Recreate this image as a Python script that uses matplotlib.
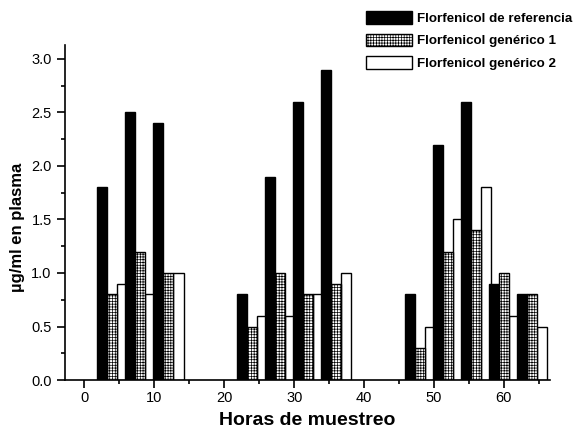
import numpy as np
import matplotlib
matplotlib.use("Agg")
from matplotlib import pyplot as plt
from matplotlib.ticker import MultipleLocator, FormatStrFormatter

# horas de muestreo y concentraciones (ug/ml)
horas = [4, 8, 12, 24, 28, 32, 36, 48, 52, 56, 60, 64]
referencia = [1.8, 2.5, 2.4, 0.8, 1.9, 2.6, 2.9, 0.8, 2.2, 2.6, 0.9, 0.8]
generico1 = [0.8, 1.2, 1.0, 0.5, 1.0, 0.8, 0.9, 0.3, 1.2, 1.4, 1.0, 0.8]
generico2 = [0.9, 0.8, 1.0, 0.6, 0.6, 0.8, 1.0, 0.5, 1.5, 1.8, 0.6, 0.5]
nombres = ["Florfenicol de referencia", "Florfenicol genérico 1", "Florfenicol genérico 2"]

plt.rcParams["font.family"] = ["Liberation Sans", "DejaVu Sans"]
plt.rcParams["hatch.linewidth"] = 0.5

fig = plt.figure(figsize=(5.79, 4.28), dpi=100)
ax = fig.add_axes([0.112, 0.112, 0.838, 0.783])

x = np.array(horas)
w = 1.45
ax.bar(x + w, generico2, w, color="white", edgecolor="black", linewidth=1, label=nombres[2], zorder=1)
ax.bar(x, generico1, w, color="white", edgecolor="black", linewidth=1, hatch="++++++", label=nombres[1], zorder=2)
ax.bar(x - w, referencia, w, color="black", edgecolor="black", linewidth=1, label=nombres[0], zorder=3)

ax.set_xlim(-2.8, 66.6)
ax.set_ylim(0, 3.13)
ax.spines["top"].set_visible(False)
ax.spines["right"].set_visible(False)
ax.spines["left"].set_linewidth(1.2)
ax.spines["bottom"].set_linewidth(1.2)

ax.xaxis.set_major_locator(MultipleLocator(10))
ax.xaxis.set_minor_locator(MultipleLocator(5))
ax.yaxis.set_major_locator(MultipleLocator(0.5))
ax.yaxis.set_minor_locator(MultipleLocator(0.25))
ax.yaxis.set_major_formatter(FormatStrFormatter("%.1f"))
ax.tick_params(which="major", length=6, width=1.2, labelsize=10.5, direction="out")
ax.tick_params(which="minor", length=3, width=1.2, direction="out")
ax.tick_params(axis="x", which="major", pad=2)

ax.set_xlabel("Horas de muestreo", fontsize=14, fontweight="bold", labelpad=5)
ax.set_ylabel("µg/ml en plasma", fontsize=12, fontweight="bold")
ax.yaxis.set_label_coords(-0.082, 0.457)

h, l = ax.get_legend_handles_labels()
fig.legend(h[::-1], l[::-1], loc="upper left", bbox_to_anchor=(0.621, 0.99),
           frameon=False, borderpad=0, handlelength=3.4, handleheight=1.1,
           labelspacing=0.65, handletextpad=0.4, prop={"weight": "bold", "size": 9.6})

fig.savefig("out.png", dpi=100)
